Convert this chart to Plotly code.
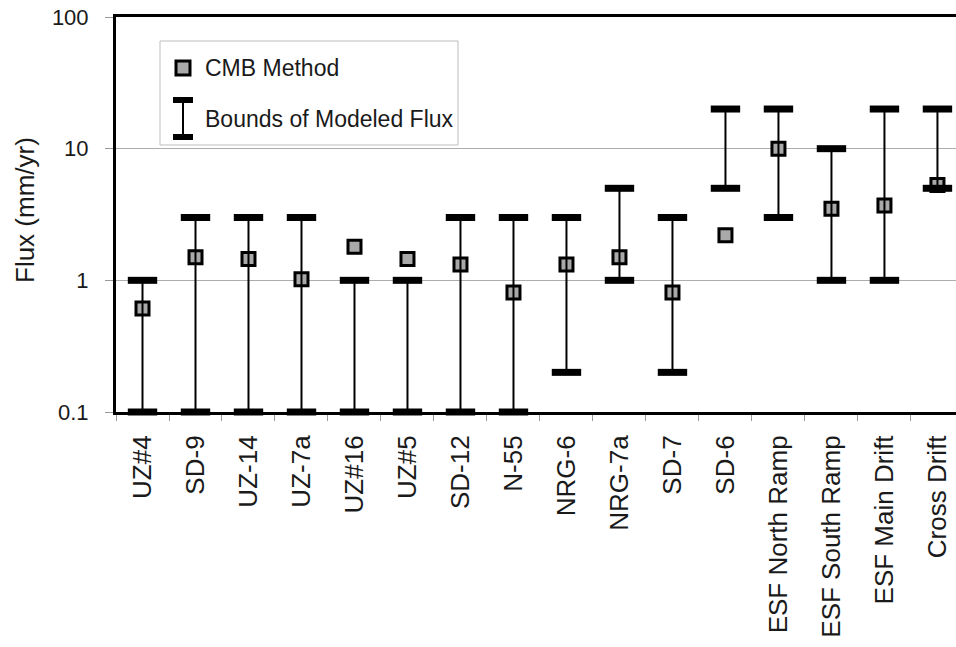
import plotly.graph_objects as go

categories = ["UZ#4", "SD-9", "UZ-14", "UZ-7a", "UZ#16", "UZ#5", "SD-12", "N-55",
              "NRG-6", "NRG-7a", "SD-7", "SD-6", "ESF North Ramp", "ESF South Ramp",
              "ESF Main Drift", "Cross Drift"]
cmb_flux = [0.61, 1.5, 1.45, 1.02, 1.8, 1.45, 1.32, 0.81, 1.32, 1.5, 0.81, 2.2, 10.0, 3.5, 3.7, 5.3]
bound_low = [0.1, 0.1, 0.1, 0.1, 0.1, 0.1, 0.1, 0.1, 0.2, 1, 0.2, 5, 3, 1, 1, 5]
bound_high = [1, 3, 3, 3, 1, 1, 3, 3, 3, 5, 3, 20, 20, 10, 20, 20]
y_ticks = [0.1, 1, 10, 100]
y_tick_text = ["0.1", "1", "10", "100"]

W, H = 956, 647
L, R, T, B = 116, 0, 17, 235
PW, PH = W - L - R, H - T - B

def px(x):
    return (x - L) / PW

def py(y):
    return (T + PH - y) / PH

FONT = "Arial, Liberation Sans, sans-serif"
TXT = "#1a1a1a"

fig = go.Figure()

# CMB markers
fig.add_trace(go.Scatter(
    x=categories, y=cmb_flux, mode="markers",
    marker=dict(symbol="square", size=13, color="#a9a9a9",
                line=dict(color="black", width=3)),
    showlegend=False, cliponaxis=False))

# vertical bound lines
lx, ly = [], []
for c, lo, hi in zip(categories, bound_low, bound_high):
    lx += [c, c, None]
    ly += [lo, hi, None]
fig.add_trace(go.Scatter(x=lx, y=ly, mode="lines",
                         line=dict(color="black", width=2),
                         showlegend=False, cliponaxis=False))

# caps
fig.add_trace(go.Scatter(
    x=categories + categories, y=bound_low + bound_high, mode="markers",
    marker=dict(symbol="line-ew", size=21, color="black",
                line=dict(color="black", width=7)),
    showlegend=False, cliponaxis=False))

# legend (drawn manually)
shapes = [
    dict(type="rect", xref="paper", yref="paper",
         x0=px(160), x1=px(458), y0=py(145), y1=py(41),
         line=dict(color="#bdbdbd", width=1), fillcolor="white", layer="above"),
    dict(type="rect", xref="paper", yref="paper",
         x0=px(176), x1=px(190), y0=py(75), y1=py(61),
         line=dict(color="black", width=3), fillcolor="#a9a9a9", layer="above"),
    dict(type="line", xref="paper", yref="paper",
         x0=px(183), x1=px(183), y0=py(100), y1=py(137),
         line=dict(color="black", width=2), layer="above"),
    dict(type="line", xref="paper", yref="paper",
         x0=px(173), x1=px(193), y0=py(100), y1=py(100),
         line=dict(color="black", width=6), layer="above"),
    dict(type="line", xref="paper", yref="paper",
         x0=px(173), x1=px(193), y0=py(137), y1=py(137),
         line=dict(color="black", width=6), layer="above"),
]
annotations = [
    dict(text="CMB Method", xref="paper", yref="paper", x=px(203), y=py(68),
         xanchor="left", yanchor="middle", showarrow=False,
         font=dict(family=FONT, size=23, color=TXT)),
    dict(text="Bounds of Modeled Flux", xref="paper", yref="paper", x=px(203), y=py(119),
         xanchor="left", yanchor="middle", showarrow=False,
         font=dict(family=FONT, size=23, color=TXT)),
    dict(text="Flux (mm/yr)", xref="paper", yref="paper", x=px(25), y=py(210),
         xanchor="center", yanchor="middle", textangle=-90, showarrow=False,
         font=dict(family=FONT, size=26, color=TXT)),
]

fig.update_layout(
    width=W, height=H,
    margin=dict(l=L, r=R, t=T, b=B, pad=0),
    paper_bgcolor="white", plot_bgcolor="white",
    font=dict(family=FONT, color=TXT),
    shapes=shapes, annotations=annotations,
    showlegend=False,
)
fig.update_xaxes(
    type="category", categoryorder="array", categoryarray=categories,
    range=[-0.5, 15.35],
    showline=True, linecolor="black", linewidth=3, mirror=True,
    showgrid=False, tickson="boundaries",
    ticks="outside", ticklen=6, tickcolor="#999999", tickwidth=1,
    tickangle=-90, tickfont=dict(family=FONT, size=26, color=TXT),
    ticklabelstandoff=10,
)
fig.update_yaxes(
    type="log", range=[-1, 2],
    tickvals=y_ticks, ticktext=y_tick_text,
    showline=True, linecolor="black", linewidth=3, mirror=False,
    showgrid=True, gridcolor="#adadad", gridwidth=1,
    ticks="outside", ticklen=8, tickcolor="#999999", tickwidth=1,
    tickfont=dict(family=FONT, size=22, color=TXT),
    ticklabelstandoff=12, zeroline=False,
)

fig.write_html("out.html")
